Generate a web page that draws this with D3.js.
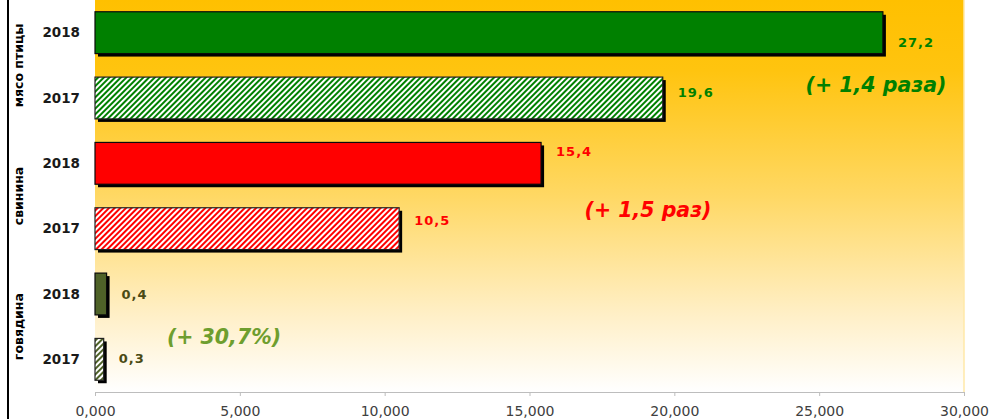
<!DOCTYPE html>
<html>
<head>
<meta charset="utf-8">
<script src="https://cdn.jsdelivr.net/npm/d3@7/dist/d3.min.js"></script>
<style>
body { margin: 0; background: #fff; }
svg { display: block; font-family: "DejaVu Sans", Verdana, sans-serif; }
</style>
</head>
<body>
<div id="chart"></div>
<script>
// данные
var groups = ["мясо птицы", "свинина", "говядина"];
var years = ["2018", "2017"];
var values = [27200, 19600, 15400, 10500, 400, 300];
var valueLabels = ["27,2", "19,6", "15,4", "10,5", "0,4", "0,3"];
var tickValues = [0, 5000, 10000, 15000, 20000, 25000, 30000];
var tickLabels = ["0,000", "5,000", "10,000", "15,000", "20,000", "25,000", "30,000"];
var growth = ["(+ 1,4 раза)", "(+ 1,5 раз)", "(+ 30,7%)"];

var colors = ["#008000", "#FF0000", "#4F6228"];
var labelColors = ["#008000", "#FF0000", "#4A4A14"];
var growthColors = ["#008000", "#FF0000", "#6E9E2E"];
// сдвиг подписей по вертикали (как в исходнике)
var labelShift = [10, -6, -12, -8, 0, -1];

var width = 989, height = 419;
var margin = {top: 0, right: 25, bottom: 27, left: 95};
var w = width - margin.left - margin.right,
    h = height - margin.top - margin.bottom;

var rows = [];
groups.forEach(function(g, i){
  years.forEach(function(y, j){
    var k = i * 2 + j;
    rows.push({group: g, gi: i, year: y, key: g + y, value: values[k], label: valueLabels[k], hatched: j == 1});
  });
});

var svg = d3.select("#chart").append("svg")
    .attr("width", width)
    .attr("height", height);

var defs = svg.append("defs");
var grad = defs.append("linearGradient")
    .attr("id", "bg").attr("x1", 0).attr("y1", 0).attr("x2", 0).attr("y2", 1);
grad.append("stop").attr("offset", "0%").attr("stop-color", "#FFC000");
grad.append("stop").attr("offset", "18%").attr("stop-color", "#FFC40F");
grad.append("stop").attr("offset", "50%").attr("stop-color", "#FFD864");
grad.append("stop").attr("offset", "80%").attr("stop-color", "#FFEFC6");
grad.append("stop").attr("offset", "100%").attr("stop-color", "#FFFFFF");

colors.forEach(function(c, i){
  var p = defs.append("pattern")
      .attr("id", "hatch" + i)
      .attr("patternUnits", "userSpaceOnUse")
      .attr("width", 4).attr("height", 4)
      .attr("patternTransform", "rotate(45)");
  p.append("rect").attr("width", 4).attr("height", 4).attr("fill", "#fff");
  p.append("rect").attr("x", 0).attr("width", 2).attr("height", 4).attr("fill", c);
});

var g = svg.append("g")
    .attr("transform", "translate(" + margin.left + "," + margin.top + ")");

g.append("rect")
    .attr("width", w).attr("height", h)
    .attr("fill", "url(#bg)");
g.append("line")
    .attr("x1", w).attr("x2", w).attr("y1", 0).attr("y2", h)
    .attr("stroke", "#FFE9A8").attr("stroke-width", 1.5);

var x = d3.scaleLinear().domain([0, 30000]).range([0, w]);
var y = d3.scaleBand().domain(rows.map(function(d){ return d.key; }))
    .range([0, h]).paddingInner(0.36).paddingOuter(0.18);

// тень
g.selectAll(".shadow")
  .data(rows)
  .enter().append("rect")
    .attr("class", "shadow")
    .attr("x", 3)
    .attr("y", function(d){ return y(d.key) + 3; })
    .attr("width", function(d){ return x(d.value); })
    .attr("height", y.bandwidth())
    .attr("fill", "#000");

g.selectAll(".bar")
  .data(rows)
  .enter().append("rect")
    .attr("class", "bar")
    .attr("x", 0)
    .attr("y", function(d){ return y(d.key); })
    .attr("width", function(d){ return x(d.value); })
    .attr("height", y.bandwidth())
    .attr("fill", function(d){ return d.hatched ? "url(#hatch" + d.gi + ")" : colors[d.gi]; })
    .attr("stroke", function(d){ return d.hatched ? "#222" : "#0a0a0a"; })
    .attr("stroke-width", 1.2);

g.selectAll(".val")
  .data(rows)
  .enter().append("text")
    .attr("class", "val")
    .attr("x", function(d){ return x(d.value) + 15; })
    .attr("y", function(d, i){ return y(d.key) + y.bandwidth() / 2 + labelShift[i]; })
    .attr("dy", "0.35em")
    .attr("fill", function(d){ return labelColors[d.gi]; })
    .style("font-size", "13px")
    .style("letter-spacing", "1px")
    .style("font-weight", "bold")
    .text(function(d){ return d.label; });

// ось X
var xAxis = d3.axisBottom(x).tickValues(tickValues)
    .tickSize(4)
    .tickFormat(function(d, i){ return tickLabels[i]; });
var ax = g.append("g")
    .attr("transform", "translate(0," + h + ")")
    .call(xAxis);
ax.select(".domain").attr("stroke", "#BDBDBD");
ax.selectAll(".tick line").attr("stroke", "#BDBDBD");
ax.selectAll(".tick text")
    .attr("fill", "#404040")
    .attr("y", 14)
    .style("font-family", "DejaVu Sans, Verdana, sans-serif")
    .style("font-size", "14px");

// годы
svg.selectAll(".year")
  .data(rows)
  .enter().append("text")
    .attr("class", "year")
    .attr("x", 80)
    .attr("y", function(d){ return margin.top + y(d.key) + y.bandwidth() / 2; })
    .attr("dy", "0.35em")
    .attr("text-anchor", "end")
    .attr("fill", "#1a1a1a")
    .style("font-size", "13.5px")
    .style("font-weight", "bold")
    .text(function(d){ return d.year; });

// группы
svg.append("line")
    .attr("x1", 8).attr("x2", 8).attr("y1", 0).attr("y2", height)
    .attr("stroke", "#000").attr("stroke-width", 2);

svg.selectAll(".grp")
  .data(groups)
  .enter().append("text")
    .attr("class", "grp")
    .attr("transform", function(d, i){
      var cy = margin.top + (y(d + years[0]) + y(d + years[1]) + y.bandwidth()) / 2;
      return "translate(19," + cy + ") rotate(-90)";
    })
    .attr("dy", "0.35em")
    .attr("text-anchor", "middle")
    .attr("fill", "#000")
    .style("font-size", "12.5px")
    .style("font-weight", "bold")
    .text(function(d){ return d; });

// прирост
var growthPos = [[876, 85], [648, 210], [224, 337]];
g.selectAll(".growth")
  .data(growth)
  .enter().append("text")
    .attr("class", "growth")
    .attr("x", function(d, i){ return growthPos[i][0] - margin.left; })
    .attr("y", function(d, i){ return growthPos[i][1] - margin.top; })
    .attr("dy", "0.35em")
    .attr("text-anchor", "middle")
    .attr("fill", function(d, i){ return growthColors[i]; })
    .style("font-size", "20.5px")
    .style("font-weight", "bold")
    .style("font-style", "italic")
    .text(function(d){ return d; });
</script>
</body>
</html>
